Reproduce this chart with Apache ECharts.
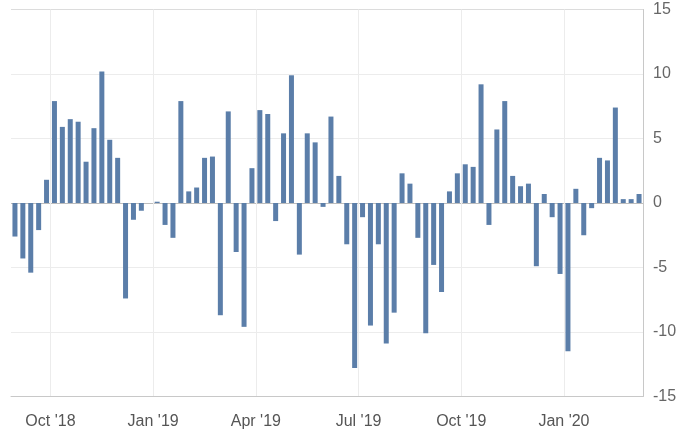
<!DOCTYPE html>
<html>
<head>
<meta charset="utf-8">
<script src="https://cdn.jsdelivr.net/npm/echarts@6/dist/echarts.min.js"></script>
<style>
html,body{margin:0;padding:0;background:#fff;}
#chart{width:681px;height:435px;}
</style>
</head>
<body>
<div id="chart"></div>
<script>
// Weekly categories (week start dates), Aug 27 2018 .. Mar 2 2020
var weeks = [];
(function(){
  var d = new Date(Date.UTC(2018, 7, 27));
  for (var i = 0; i < 80; i++) {
    weeks.push(d.toISOString().slice(0, 10));
    d = new Date(d.getTime() + 7 * 86400000);
  }
})();

var values = [
  -2.6, -4.3, -5.4, -2.1, 1.8, 7.9, 5.9, 6.5, 6.3, 3.2,
  5.8, 10.2, 4.9, 3.5, -7.4, -1.3, -0.6, 0, 0.1, -1.7,
  -2.7, 7.9, 0.9, 1.2, 3.5, 3.6, -8.7, 7.1, -3.8, -9.6,
  2.7, 7.2, 6.9, -1.4, 5.4, 9.9, -4.0, 5.4, 4.7, -0.3,
  6.7, 2.1, -3.2, -12.8, -1.1, -9.5, -3.2, -10.9, -8.5, 2.3,
  1.5, -2.7, -10.1, -4.8, -6.9, 0.9, 2.3, 3.0, 2.8, 9.2,
  -1.7, 5.7, 7.9, 2.1, 1.3, 1.5, -4.9, 0.7, -1.1, -5.5,
  -11.5, 1.1, -2.5, -0.4, 3.5, 3.3, 7.4, 0.3, 0.3, 0.7
];

var tickWeeks  = ["2018-10-01", "2018-12-31", "2019-04-01", "2019-07-01", "2019-09-30", "2019-12-30"];
var tickLabels = ["Oct '18", "Jan '19", "Apr '19", "Jul '19", "Oct '19", "Jan '20"];

var yTicks = [-15, -10, -5, 0, 5, 10, 15];

var labelOf = {};
tickWeeks.forEach(function(w, i){ labelOf[w] = tickLabels[i]; });
function isTick(idx, val) {
  return labelOf[weeks[idx]] !== undefined;
}

var chart = echarts.init(document.getElementById('chart'), null, {renderer: 'canvas'});
chart.setOption({
  animation: false,
  backgroundColor: '#fff',
  grid: {left: 11, right: 38, top: 9.5, bottom: 38.5, containLabel: false},
  xAxis: {
    type: 'category',
    data: weeks,
    boundaryGap: true,
    axisLine: {show: true, onZero: false, lineStyle: {color: '#c8c8c8', width: 1}},
    axisTick: {show: false},
    axisLabel: {
      interval: isTick,
      formatter: function(v){ return labelOf[v] || ''; },
      color: '#555',
      fontSize: 16,
      fontFamily: 'Arial, Liberation Sans, sans-serif',
      margin: 17,
      padding: [0, 8, 0, 0]
    },
    splitLine: {show: true, interval: isTick, lineStyle: {color: '#ececec', width: 1}}
  },
  yAxis: {
    type: 'value',
    position: 'right',
    min: yTicks[0],
    max: yTicks[yTicks.length - 1],
    interval: 5,
    axisLine: {show: true, lineStyle: {color: '#c8c8c8', width: 1}},
    axisTick: {show: false},
    axisLabel: {
      color: '#666',
      fontSize: 16,
      fontFamily: 'Arial, Liberation Sans, sans-serif',
      margin: 10
    },
    splitLine: {show: true, lineStyle: {color: ['#ececec', '#ececec', '#ececec', '#bdbdbd', '#ececec', '#ececec', '#dcdcdc'], width: 1}}
  },
  series: [{
    type: 'bar',
    data: values,
    barWidth: 5,
    itemStyle: {color: '#5b7ea9'}
  }]
});
</script>
</body>
</html>
